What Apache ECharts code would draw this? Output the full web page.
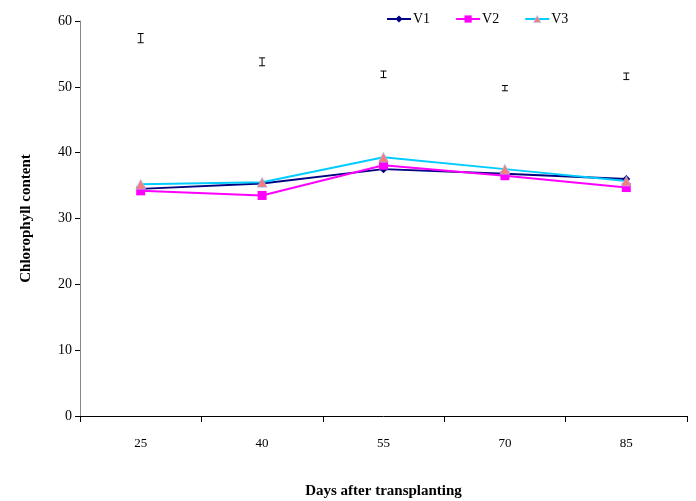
<!DOCTYPE html>
<html>
<head>
<meta charset="utf-8">
<script src="https://cdn.jsdelivr.net/npm/echarts@6/dist/echarts.min.js"></script>
<style>html,body{margin:0;padding:0;background:#fff}#c{width:696px;height:501px}</style>
</head>
<body>
<div id="c"></div>
<script>
var categories = ['25', '40', '55', '70', '85'];
var v1 = [34.5, 35.3, 37.5, 36.8, 36.0];
var v2 = [34.2, 33.5, 38.1, 36.5, 34.7];
var v3 = [35.2, 35.5, 39.3, 37.5, 35.7];
var errCenter = [57.4, 53.8, 51.9, 49.8, 51.6];
var errHalf = [0.7, 0.6, 0.5, 0.4, 0.5];

var errData = categories.map(function (c, i) { return [i, errCenter[i], errHalf[i]]; });
var font = 'Liberation Serif';

var chart = echarts.init(document.getElementById('c'));
chart.setOption({
  animation: false,
  backgroundColor: '#fff',
  textStyle: { fontFamily: font },
  grid: { left: 80, right: 9, top: 21, bottom: 85, outerBoundsMode: 'none', containLabel: false },
  legend: {
    top: 7, left: 381,
    itemWidth: 24, itemHeight: 9, itemGap: 25,
    textStyle: { fontFamily: font, fontSize: 14, color: '#000', padding: [0, 0, 0, -3] },
    data: [
      { name: 'V1' },
      { name: 'V2' },
      { name: 'V3', itemStyle: { color: '#F08080', borderColor: '#99CCFF', borderWidth: 0.5 } }
    ]
  },
  xAxis: {
    type: 'category',
    data: categories,
    boundaryGap: true,
    name: 'Days after transplanting',
    nameLocation: 'middle',
    nameGap: 68,
    nameTextStyle: { fontFamily: font, fontSize: 15, fontWeight: 'bold', color: '#000' },
    axisLine: { lineStyle: { color: '#000', width: 1 } },
    axisTick: { show: true, inside: false, length: 6, alignWithLabel: false, lineStyle: { color: '#000' } },
    axisLabel: { margin: 21, fontFamily: font, fontSize: 13, color: '#000' },
    splitLine: { show: false }
  },
  yAxis: {
    type: 'value',
    min: 0, max: 60, interval: 10,
    name: 'Chlorophyll content',
    nameLocation: 'middle',
    nameGap: 46,
    nameRotate: 90,
    nameTextStyle: { fontFamily: font, fontSize: 15, fontWeight: 'bold', color: '#000' },
    axisLine: { show: true, lineStyle: { color: '#888', width: 1 } },
    axisTick: { show: true, inside: false, length: 5, lineStyle: { color: '#000' } },
    axisLabel: { margin: 8, fontFamily: font, fontSize: 14, color: '#000' },
    splitLine: { show: false }
  },
  series: [
    {
      name: 'V1', type: 'line', data: v1,
      symbol: 'diamond', symbolSize: 8,
      lineStyle: { color: '#000080', width: 2 },
      itemStyle: { color: '#000080' }
    },
    {
      name: 'V2', type: 'line', data: v2,
      symbol: 'rect', symbolSize: 9,
      lineStyle: { color: '#FF00FF', width: 2 },
      itemStyle: { color: '#FF00FF' }
    },
    {
      name: 'V3', type: 'line', data: v3,
      symbol: 'triangle', symbolSize: 10,
      lineStyle: { color: '#00CCFF', width: 2 },
      itemStyle: { color: '#F08080', borderColor: '#99CCFF', borderWidth: 0.5 }
    },
    {
      name: 'err', type: 'custom', data: errData,
      renderItem: function (params, api) {
        var i = api.value(0), c = api.value(1), h = api.value(2);
        var top = api.coord([i, c + h]);
        var bot = api.coord([i, c - h]);
        var w = 3;
        var st = { stroke: '#000', lineWidth: 1 };
        return {
          type: 'group',
          children: [
            { type: 'line', shape: { x1: top[0], y1: top[1], x2: bot[0], y2: bot[1] }, style: st },
            { type: 'line', shape: { x1: top[0] - w, y1: top[1], x2: top[0] + w, y2: top[1] }, style: st },
            { type: 'line', shape: { x1: bot[0] - w, y1: bot[1], x2: bot[0] + w, y2: bot[1] }, style: st }
          ]
        };
      },
      z: 5
    }
  ]
});
</script>
</body>
</html>
